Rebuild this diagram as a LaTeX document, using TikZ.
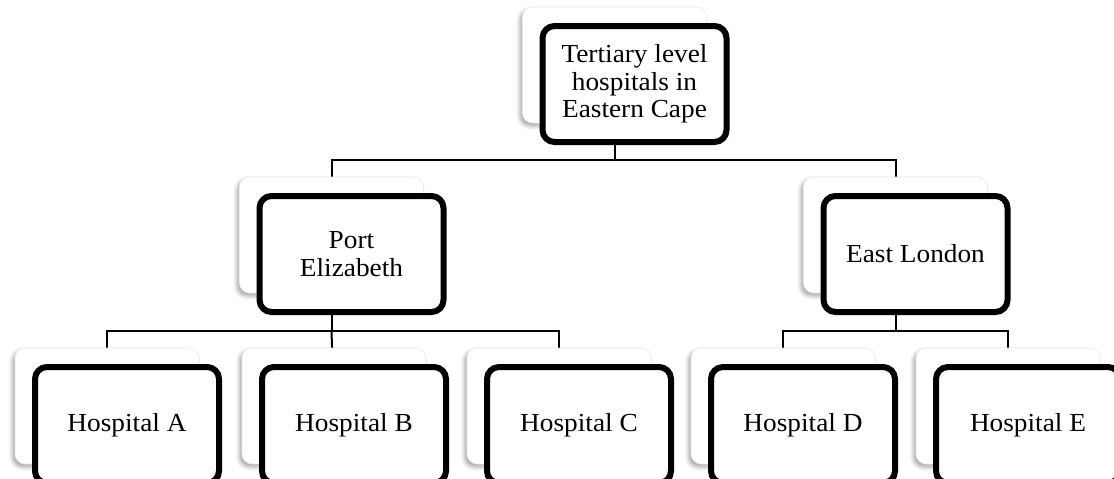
\documentclass[tikz,border=0pt]{standalone}
\usepackage{fontspec}
\setmainfont[FakeStretch=1.05]{Liberation Serif}
\usetikzlibrary{shadows.blur,backgrounds}
\begin{document}
\begin{tikzpicture}[x=1pt,y=-1pt,
  card/.style={rectangle, rounded corners=10pt, fill=white, draw=black!8,
    line width=0.6pt, minimum width=184pt, minimum height=116pt, inner sep=0pt,
    blur shadow={shadow xshift=-2.5pt, shadow yshift=-3pt,
      shadow blur radius=4pt, shadow opacity=35}},
  unit/.style={rectangle, rounded corners=12pt, fill=white, draw=black,
    line width=6pt, minimum width=184pt, minimum height=116pt, inner sep=0pt,
    align=center, font=\fontsize{26}{27.5}\selectfont},
  conn/.style={draw=black, line width=2pt}]
\useasboundingbox (0,0) rectangle (1114,479);

% rails of the two branch levels
\coordinate (bus1) at (0,160);
\coordinate (bus2) at (0,331);

% level 0
\node[card] (tc) at (614.5,65) {};
\node[unit] (t) at (634.5,84) {Tertiary level\\hospitals in\\Eastern Cape};

% level 1
\node[card] (pec) at (331.5,235) {};
\node[unit] (pe) at (351.5,254) {Port\\Elizabeth};
\node[card] (elc) at (895.5,235) {};
\node[unit] (el) at (915.5,254) {East London};

% level 2
\node[card] (ac) at (107,406) {};
\node[unit] (a) at (127,425) {Hospital A};
\node[card] (bc) at (334,406) {};
\node[unit] (b) at (354,425) {Hospital B};
\node[card] (cc) at (559,406) {};
\node[unit] (c) at (579,425) {Hospital C};
\node[card] (dc) at (783,406) {};
\node[unit] (d) at (803,425) {Hospital D};
\node[card] (ec) at (1008,406) {};
\node[unit] (e) at (1028,425) {Hospital E};

% connectors run behind the cards
\begin{scope}[on background layer]
  \draw[conn] (tc.center) -- (tc.center |- bus1) -| (pec.center);
  \draw[conn] (tc.center |- bus1) -| (elc.center);
  \draw[conn] (pec.center) -- (pec.center |- bus2) -| (ac.center);
  \draw[conn] (pec.center |- bus2) -- (bc.center);
  \draw[conn] (pec.center |- bus2) -| (cc.center);
  \draw[conn] (elc.center) -- (elc.center |- bus2) -| (dc.center);
  \draw[conn] (elc.center |- bus2) -| (ec.center);
\end{scope}
\end{tikzpicture}
\end{document}
